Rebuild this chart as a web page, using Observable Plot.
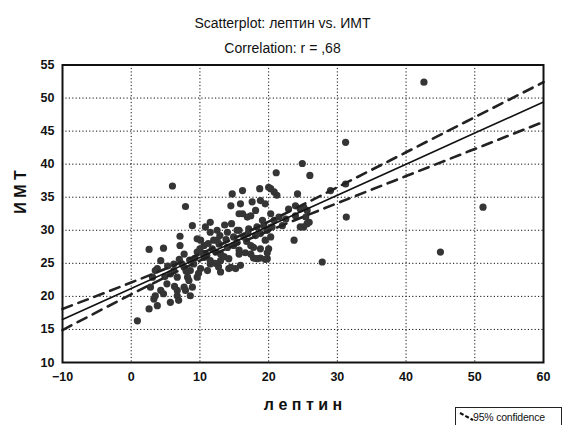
<!DOCTYPE html>
<html>
<head>
<meta charset="utf-8">
<script src="https://cdn.jsdelivr.net/npm/d3@7"></script>
<script src="https://cdn.jsdelivr.net/npm/@observablehq/plot@0.6"></script>
<style>
  html, body { margin: 0; padding: 0; background: #fff; }
  #wrap { position: relative; width: 574px; height: 425px; overflow: hidden; font-family: "Liberation Sans", Arial, sans-serif; }
  #legend { position: absolute; left: 455px; top: 407px; width: 105px; height: 20px; border-left: 1px solid #222; border-top: 1px solid #222; border-right: 1px solid #222; font-size: 10.5px; color: #111; }
  #legend svg { position: absolute; left: 3px; top: 4px; }
  #legend span { position: absolute; left: 17px; top: 3px; letter-spacing: -0.2px; }
</style>
</head>
<body>
<div id="wrap"><div id="legend"><svg width="16" height="10"><line x1="1" y1="1" x2="14" y2="8" stroke="#111" stroke-width="2.2" stroke-dasharray="4,2"/></svg><span>95% confidence</span></div></div>
<script>
// Title texts
const titleText = "Scatterplot: лептин vs. ИМТ";
const subtitleText = "Correlation: r = ,68";
const xLabel = "л е п т и н";
const yLabel = "И М Т";

// Axis ticks
const xTicks = [-10, 0, 10, 20, 30, 40, 50, 60];
const yTicks = [10, 15, 20, 25, 30, 35, 40, 45, 50, 55];

// Scatter points (лептин, ИМТ)
const leptin = [
  42.6,31.2,31.3,51.2,45.0,29.0,31.2,24.9,21.1,26.0,23.7,27.8,0.9,6.0,7.9,2.6,4.7,7.1,7.1,25.1,25.6,24.6,
  16.2,18.7,20.0,20.8,21.2,24.2,17.6,18.8,19.5,15.9,16.2,17.4,18.1,19.1,21.5,22.9,23.9,24.6,25.4,23.9,22.5,25.1,25.9,22.0,20.5,19.8,17.1,15.7,16.4,18.1,20.3,19.5,15.4,17.4,18.8,15.7,16.6,19.8,17.8,18.8,19.5,15.9,15.2,
  14.7,14.5,15.7,8.9,11.5,14.0,15.4,9.6,10.6,12.5,12.3,14.0,14.9,15.7,14.2,13.0,11.5,10.6,9.6,9.1,10.1,11.1,14.2,4.3,6.2,7.7,7.7,3.8,3.1,5.7,6.7,8.2,8.9,7.7,5.2,4.7,3.5,6.7,8.6,5.7,3.8,9.6,13.0,11.5,10.8,12.5,
  3.5,2.8,2.6,3.3,4.3,6.7,6.9,7.9,8.4,6.2,7.4,8.6,10.1,12.0,11.5,13.0,14.5,14.9,16.9,18.8,17.8,17.4,18.3,19.8,20.0,20.8,19.3,25.6,20.3,20.3,
  10.5,11.8,12.8,13.5,12.2,11.0,13.8,10.0,11.2,12.7,9.3,8.5,9.8,8.0,7.0,5.3,4.9,6.3,16.8,17.0,18.3,13.6,12.9,14.6
];
const imt = [
  52.4,43.3,32.0,33.5,26.7,36.0,37.0,40.1,38.7,38.3,28.5,25.2,16.3,36.7,33.6,27.1,27.3,29.1,27.7,33.5,31.0,30.5,
  36.0,36.3,36.5,35.8,35.3,35.5,34.3,34.5,34.0,34.0,32.5,32.2,33.0,31.5,32.0,33.2,33.7,33.2,32.0,32.2,31.7,30.5,31.2,30.7,30.5,30.0,30.2,30.0,29.0,29.2,29.0,28.5,28.2,27.7,27.2,27.0,26.6,26.6,25.8,25.8,25.6,24.7,24.2,
  35.5,33.7,32.5,30.7,31.2,29.7,30.0,28.7,27.7,28.5,26.7,27.4,27.7,26.4,25.7,25.4,24.9,25.9,26.7,24.9,24.2,23.9,24.2,25.4,24.9,26.4,24.4,24.2,22.9,23.4,22.9,22.9,21.4,21.4,21.9,20.4,20.1,20.1,20.1,19.1,18.6,22.9,23.7,29.7,30.5,30.0,
  23.9,21.4,18.1,19.6,20.9,20.9,19.4,20.9,22.4,23.9,24.9,23.9,28.5,28.5,25.4,26.4,24.4,29.0,32.0,29.5,27.4,26.4,25.7,25.7,27.2,31.5,30.7,33.0,36.3,32.5,
  26.5,27.2,27.9,26.0,25.0,26.2,28.6,27.2,28.0,24.5,25.8,25.5,23.5,23.8,25.6,24.6,23.0,21.5,28.3,29.5,30.5,30.8,29.2,31.0
];

// Regression line and 95% confidence limits
const fitX = [-10, 0, 10, 20, 30, 40, 50, 60];
const fitY = [16.5, 21.2, 25.9, 30.6, 35.3, 40.0, 44.7, 49.4];
const upperY = [18.1, 22.1, 26.4, 31.3, 36.5, 41.8, 47.1, 52.4];
const lowerY = [14.9, 20.3, 25.4, 29.9, 34.1, 38.2, 42.3, 46.4];

const points = leptin.map((x, i) => ({x, y: imt[i]}));
const fit = fitX.map((x, i) => ({x, y: fitY[i], up: upperY[i], lo: lowerY[i]}));

const chart = Plot.plot({
  width: 574,
  height: 425,
  marginLeft: 62,
  marginRight: 31,
  marginTop: 64.5,
  marginBottom: 63,
  style: {fontFamily: "'Liberation Sans', Arial, sans-serif", background: "transparent", color: "#111"},
  x: {domain: [-10, 60], ticks: xTicks, label: null},
  y: {domain: [10, 55], ticks: yTicks, label: null},
  marks: [
    Plot.ruleX(xTicks.slice(1, -1), {stroke: "#111", strokeDasharray: "1.2,2.2", strokeWidth: 1}),
    Plot.ruleY(yTicks.slice(1, -1), {stroke: "#111", strokeDasharray: "1.2,2.2", strokeWidth: 1}),
    Plot.dot(points, {x: "x", y: "y", r: 3.6, fill: "#353535", stroke: "none"}),
    Plot.line(fit, {x: "x", y: "y", stroke: "#111", strokeWidth: 1.6}),
    Plot.line(fit, {x: "x", y: "up", stroke: "#222", strokeWidth: 2.6, strokeDasharray: "10,7", curve: "natural"}),
    Plot.line(fit, {x: "x", y: "lo", stroke: "#222", strokeWidth: 2.6, strokeDasharray: "10,7", curve: "natural"}),
    Plot.frame({stroke: "#111", strokeWidth: 2}),
    Plot.axisX({ticks: xTicks, tickSize: 0, tickPadding: 10, fontSize: 12.5, fontWeight: "bold", label: null}),
    Plot.axisY({ticks: yTicks, tickSize: 0, tickPadding: 8, fontSize: 12.5, fontWeight: "bold", label: null}),
    Plot.text([titleText], {frameAnchor: "top-left", textAnchor: "middle", dx: 220, dy: -47, fontSize: 14, fill: "#111"}),
    Plot.text([subtitleText], {frameAnchor: "top-left", textAnchor: "middle", dx: 220, dy: -22, fontSize: 14, fill: "#111"}),
    Plot.text([xLabel], {frameAnchor: "bottom", dy: 47, fontSize: 16, fontWeight: "bold", fill: "#111"}),
    Plot.text([yLabel], {frameAnchor: "left", dx: -42, rotate: -90, fontSize: 16, fontWeight: "bold", fill: "#111"})
  ]
});
document.getElementById("wrap").prepend(chart);
chart.style.position = "absolute";
chart.style.left = "0";
chart.style.top = "0";
</script>
</body>
</html>
